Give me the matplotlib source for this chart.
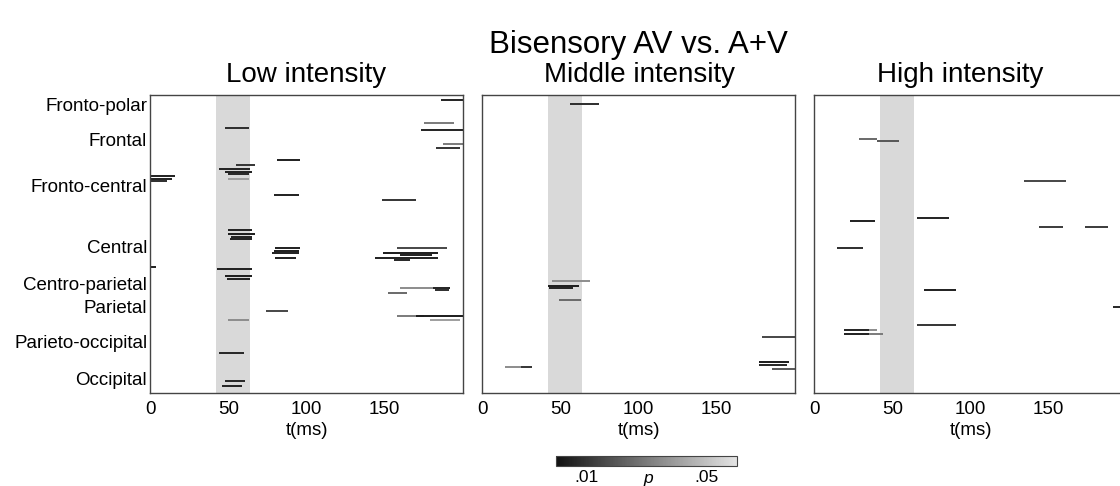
import matplotlib
matplotlib.use("Agg")
import matplotlib.pyplot as plt
import numpy as np
from matplotlib.colors import LinearSegmentedColormap, Normalize
from matplotlib.cm import ScalarMappable

plt.rcParams['font.family'] = ['Liberation Sans', 'DejaVu Sans']

# ---------------- data ----------------
main_title = "Bisensory AV vs. A+V"
panel_titles = ["Low intensity", "Middle intensity", "High intensity"]
region_labels = ["Fronto-polar", "Frontal", "Fronto-central", "Central",
                 "Centro-parietal", "Parietal", "Parieto-occipital", "Occipital"]
region_rows = [4, 19, 39, 65, 81, 91, 106, 122]
n_electrodes = 128
x_ticks = [0, 50, 100, 150]
t_max = 200
window_start = 42
window_end = 64
cbar_ticks = [0.01, 0.05]
cbar_ticklabels = [".01", ".05"]
p_max = 0.06

# Low intensity: electrode row, start (ms), end (ms), p
low_rows = [2, 12, 14, 15, 21, 23, 28, 30, 32, 33, 34, 36, 35, 36, 37, 43, 45,
            58, 60, 61, 62, 66, 66, 67, 68, 68, 69, 70, 70, 71, 74, 75, 78, 79,
            83, 83, 84, 85, 93, 95, 95, 97, 97, 111, 123, 125]
low_start = [186, 175, 48, 173, 187, 183, 81, 55, 44, 48, 50, 50, 0, 0, 0, 79, 148,
             50, 50, 52, 51, 158, 80, 79, 149, 78, 160, 144, 80, 156, 0, 43, 48, 49,
             160, 181, 182, 152, 74, 158, 170, 179, 50, 44, 48, 46]
low_end = [200, 194, 63, 200, 200, 198, 96, 67, 64, 65, 63, 63, 16, 14, 11, 95, 170,
           65, 67, 65, 65, 190, 96, 95, 184, 95, 180, 184, 93, 166, 4, 65, 65, 64,
           181, 192, 191, 164, 88, 175, 200, 198, 63, 60, 61, 59]
low_p = [0.005, 0.03, 0.008, 0.005, 0.03, 0.01, 0.004, 0.01, 0.005, 0.004, 0.006, 0.04,
         0.004, 0.004, 0.008, 0.004, 0.01, 0.004, 0.003, 0.005, 0.005, 0.015, 0.004,
         0.003, 0.003, 0.004, 0.004, 0.004, 0.004, 0.006, 0.004, 0.004, 0.003, 0.004,
         0.035, 0.005, 0.008, 0.025, 0.015, 0.03, 0.003, 0.04, 0.035, 0.006, 0.006, 0.005]

# Middle intensity
mid_rows = [4, 80, 82, 83, 88, 104, 115, 116, 118, 117, 117]
mid_start = [56, 45, 42, 43, 49, 179, 177, 177, 185, 15, 25]
mid_end = [75, 69, 62, 58, 63, 200, 196, 195, 200, 25, 32]
mid_p = [0.008, 0.035, 0.003, 0.005, 0.025, 0.015, 0.003, 0.006, 0.02, 0.035, 0.01]

# High intensity
high_rows = [19, 20, 37, 53, 54, 57, 57, 66, 84, 91, 99, 101, 101, 103, 103]
high_start = [29, 40, 134, 66, 23, 144, 173, 15, 70, 191, 66, 19, 35, 19, 35]
high_end = [40, 54, 161, 86, 39, 159, 188, 31, 91, 200, 91, 35, 40, 35, 44]
high_p = [0.025, 0.02, 0.015, 0.005, 0.004, 0.012, 0.012, 0.008, 0.004, 0.006, 0.01,
          0.005, 0.035, 0.004, 0.03]

panels = [(low_rows, low_start, low_end, low_p),
          (mid_rows, mid_start, mid_end, mid_p),
          (high_rows, high_start, high_end, high_p)]

# ---------------- figure ----------------
W, H = 1120, 486
fig = plt.figure(figsize=(W / 100, H / 100), dpi=100)
cmap = LinearSegmentedColormap.from_list("pgray", ["#111111", "#e4e4e4"])
norm = Normalize(0, p_max)

frame_color = "#444444"
ax_lefts = [150, 482, 814]
ax_w = 313
ax_top, ax_bot = 95, 392.5
title_x = [306, 640, 960]

for i, (rows, st, en, pv) in enumerate(panels):
    ax = fig.add_axes([ax_lefts[i] / W, 1 - ax_bot / H, ax_w / W, (ax_bot - ax_top) / H])
    ax.axvspan(window_start, window_end, color="#d9d9d9", lw=0, zorder=0)
    ax.hlines(rows, st, en, colors=cmap(norm(np.array(pv))), lw=1.4, zorder=2,
              capstyle="butt")
    ax.set_xlim(0, t_max)
    ax.set_ylim(n_electrodes, 0)
    ax.set_xticks(x_ticks)
    ax.set_xticklabels([str(v) for v in x_ticks], fontsize=13.5)
    ax.tick_params(axis="x", length=0, pad=6)
    if i == 0:
        ax.set_yticks(region_rows)
        ax.set_yticklabels(region_labels, fontsize=13.5)
        ax.tick_params(axis="y", length=0, pad=2)
    else:
        ax.set_yticks([])
    ax.set_xlabel("t(ms)", fontsize=13.5, labelpad=3)
    for s in ax.spines.values():
        s.set_color(frame_color)
        s.set_linewidth(1.0)
    fig.text(title_x[i] / W, 1 - 75 / H, panel_titles[i], ha="center", va="center",
             fontsize=20)

fig.text(638 / W, 1 - 45 / H, main_title, ha="center", va="center", fontsize=22.5)

# colorbar
cax = fig.add_axes([556 / W, 1 - 466 / H, 181 / W, 10.5 / H])
sm = ScalarMappable(norm=norm, cmap=cmap)
cb = fig.colorbar(sm, cax=cax, orientation="horizontal")
cb.set_ticks(cbar_ticks)
cb.set_ticklabels(cbar_ticklabels)
cb.ax.tick_params(length=0, labelsize=12.5, pad=3)
cb.outline.set_edgecolor(frame_color)
cb.outline.set_linewidth(0.8)
fig.text(648 / W, 1 - 478 / H, "p", style="italic", ha="center", va="center", fontsize=12.5)

fig.savefig("out.png", dpi=100)
